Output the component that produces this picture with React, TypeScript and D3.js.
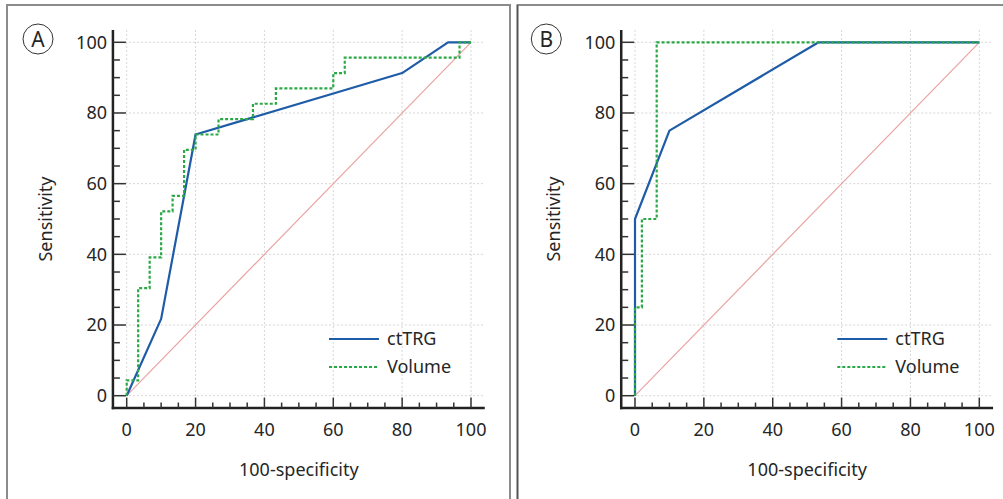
import * as d3 from "d3";

// panel A
const ctTrgFprA = [0, 10, 20, 80, 93.33, 100];
const ctTrgSensA = [0, 21.74, 73.91, 91.3, 100, 100];
const volumeFprA = [0, 3.33, 6.67, 10, 13.33, 16.67, 20, 26.67, 36.67, 43.33, 60, 63.33, 96.67, 100];
const volumeSensA = [0, 4.35, 30.43, 39.13, 52.17, 56.52, 69.57, 73.91, 78.26, 82.61, 86.96, 91.3, 95.65, 100];

// panel B
const ctTrgFprB = [0, 0, 10, 53.33, 100];
const ctTrgSensB = [0, 50, 75, 100, 100];
const volumeFprB = [0, 2, 6.3, 100];
const volumeSensB = [0, 25, 50, 100];

const ticks = [0, 20, 40, 60, 80, 100];
const minorTicks = d3.range(0, 101, 5);
const seriesNames = ["ctTRG", "Volume"];

const FONT = "'Noto Sans', sans-serif";
const BLUE = "#1f5ca8";
const GREEN = "#2aa846";
const FS = 18;

type PanelProps = {
  letter: string;
  dx: number;
  ctX: number[];
  ctY: number[];
  volX: number[];
  volY: number[];
};

const Panel = ({ letter, dx, ctX, ctY, volX, volY }: PanelProps) => {
  const x = d3.scaleLinear().domain([0, 100]).range([126.7, 471]);
  const y = d3.scaleLinear().domain([0, 100]).range([395.7, 42.3]);

  const x0 = x(-4);
  const x1 = x(104);
  const yTop = y(103.5);
  const yBot = y(-3.5);

  const line = d3
    .line<[number, number]>()
    .x((d) => x(d[0]))
    .y((d) => y(d[1]));
  const stepLine = d3
    .line<[number, number]>()
    .x((d) => x(d[0]))
    .y((d) => y(d[1]))
    .curve(d3.curveStepBefore);

  const ctPts = ctX.map((v, i) => [v, ctY[i]] as [number, number]);
  const volPts = volX.map((v, i) => [v, volY[i]] as [number, number]);

  return (
    <g transform={`translate(${dx},0)`} fontFamily={FONT} fill="#262626">
      {/* grid */}
      {ticks.map((t) => (
        <line key={"gx" + t} x1={x(t)} x2={x(t)} y1={yTop} y2={yBot} stroke="#d6d6d6" strokeDasharray="2,2" />
      ))}
      {ticks.map((t) => (
        <line key={"gy" + t} x1={x0} x2={x1} y1={y(t)} y2={y(t)} stroke="#d6d6d6" strokeDasharray="2,2" />
      ))}

      {/* diagonal */}
      <path d={line([[0, 0], [100, 100]]) ?? ""} fill="none" stroke="#eba3a3" strokeWidth={1.2} />

      {/* curves */}
      <path d={line(ctPts) ?? ""} fill="none" stroke={BLUE} strokeWidth={2.2} strokeLinejoin="round" />
      <path d={stepLine(volPts) ?? ""} fill="none" stroke={GREEN} strokeWidth={2.2} strokeDasharray="3,2" />

      {/* axes */}
      <line x1={x0} x2={x0} y1={yTop} y2={yBot + 1.2} stroke="#222" strokeWidth={2.5} />
      <line x1={x0 - 1.2} x2={x1} y1={yBot} y2={yBot} stroke="#222" strokeWidth={2.5} />
      {minorTicks.map((t) => (
        <line
          key={"tx" + t}
          x1={x(t)}
          x2={x(t)}
          y1={yBot}
          y2={yBot - (t % 20 === 0 ? 10.5 : 5.5)}
          stroke="#333"
          strokeWidth={1.5}
        />
      ))}
      {minorTicks.map((t) => (
        <line
          key={"ty" + t}
          x1={x0}
          x2={x0 + (t % 20 === 0 ? 13 : 7)}
          y1={y(t)}
          y2={y(t)}
          stroke="#333"
          strokeWidth={1.5}
        />
      ))}
      {ticks.map((t) => (
        <text key={"lx" + t} x={x(t)} y={436} textAnchor="middle" fontSize={FS}>
          {t}
        </text>
      ))}
      {ticks.map((t) => (
        <text key={"ly" + t} x={107} y={y(t)} dy="0.35em" textAnchor="end" fontSize={FS}>
          {t}
        </text>
      ))}
      <text x={(x(0) + x(100)) / 2} y={476} textAnchor="middle" fontSize={FS}>
        100-specificity
      </text>
      <text transform={`translate(52,${(y(0) + y(100)) / 2}) rotate(-90)`} textAnchor="middle" fontSize={FS}>
        Sensitivity
      </text>

      {/* legend */}
      <line x1={329} x2={379} y1={339} y2={339} stroke={BLUE} strokeWidth={2.2} />
      <text x={387} y={339} dy="0.35em" fontSize={FS}>
        {seriesNames[0]}
      </text>
      <line x1={329} x2={379} y1={367} y2={367} stroke={GREEN} strokeWidth={2.2} strokeDasharray="3,2" />
      <text x={387} y={367} dy="0.35em" fontSize={FS}>
        {seriesNames[1]}
      </text>

      {/* panel letter */}
      <circle cx={38} cy={39} r={15} fill="none" stroke="#333" strokeWidth={1} />
      <text x={38} y={39} dy="0.36em" textAnchor="middle" fontSize={21}>
        {letter}
      </text>
    </g>
  );
};

const App = () => {
  return (
    <svg
      width={1003}
      height={499}
      style={{ position: "absolute", left: 0, top: 0, display: "block", background: "#fff" }}
    >
      {/* panel frames */}
      <path d="M7,499 V5 H510 V499" fill="none" stroke="#8c8c8c" strokeWidth={2} />
      <path d="M517.5,499 V5 H1003" fill="none" stroke="#8c8c8c" strokeWidth={2} />
      <line x1={517.5} x2={517.5} y1={5} y2={499} stroke="#555" strokeWidth={1.5} />

      <Panel letter="A" dx={0} ctX={ctTrgFprA} ctY={ctTrgSensA} volX={volumeFprA} volY={volumeSensA} />
      <Panel letter="B" dx={508.3} ctX={ctTrgFprB} ctY={ctTrgSensB} volX={volumeFprB} volY={volumeSensB} />
    </svg>
  );
};

export default App;
